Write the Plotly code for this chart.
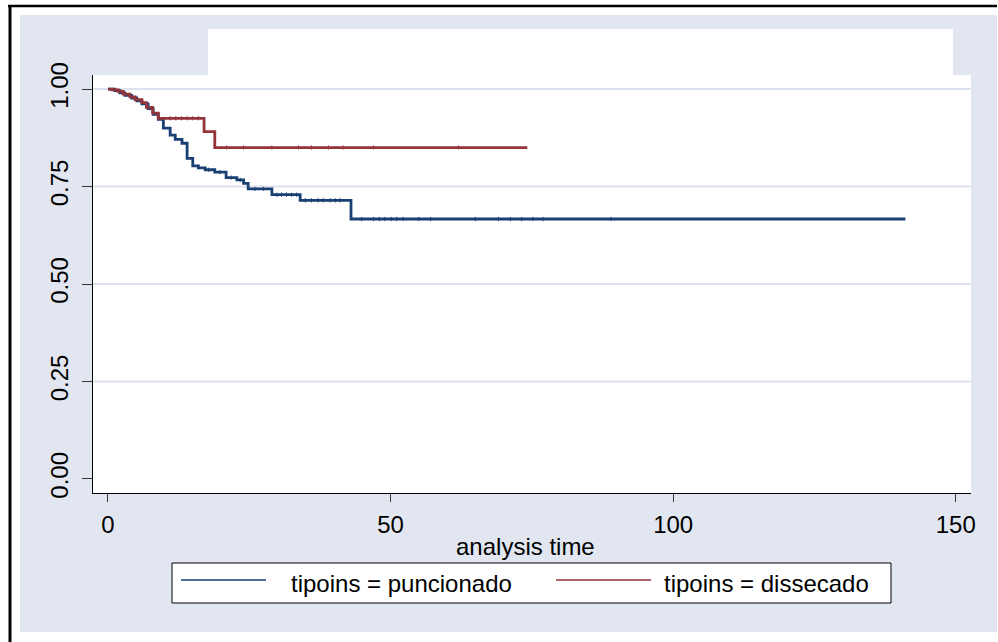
import numpy as np
import plotly.graph_objects as go

# Kaplan-Meier step estimates: time at which each value starts, survival value
punc_times = [0, 1.2, 2.1, 3.0, 4.2, 5.1, 6.0, 7.1, 8.0, 8.9, 9.8, 11.0, 11.9,
              13.1, 14.0, 15.0, 16.0, 17.2, 18.9, 20.9, 22.8, 24.0, 24.8, 29.0,
              34.0, 43.0]
punc_surv = [1.000, 0.996, 0.990, 0.984, 0.977, 0.970, 0.962, 0.950, 0.935,
             0.922, 0.900, 0.882, 0.871, 0.861, 0.822, 0.803, 0.798, 0.793,
             0.787, 0.773, 0.767, 0.758, 0.744, 0.729, 0.7145, 0.6667]
punc_last = 141.1
punc_censored = [17.8, 19.8, 21.8, 23.4, 26.0, 27.5, 29.9, 30.7, 31.6, 32.5,
                 33.4, 34.9, 36.0, 37.2, 38.1, 39.3, 40.2, 41.1, 44.9, 47.0,
                 48.0, 49.0, 50.1, 51.1, 52.2, 55.0, 57.1, 65.0, 69.1, 71.2,
                 73.2, 75.2, 77.0, 89.0]

diss_times = [0, 0.8, 1.8, 2.7, 3.9, 4.8, 6.0, 6.8, 7.9, 8.9, 17.0, 18.9]
diss_surv = [1.000, 0.998, 0.994, 0.987, 0.980, 0.973, 0.965, 0.953, 0.938,
             0.925, 0.891, 0.850]
diss_last = 74.2
diss_censored = [11.0, 12.0, 13.0, 14.0, 15.0, 16.0, 21.0, 24.0, 29.0, 33.7,
                 36.0, 39.0, 41.6, 47.0, 62.0]

x_ticks = [0, 50, 100, 150]
y_ticks = [0.00, 0.25, 0.50, 0.75, 1.00]
y_tick_text = ["0.00", "0.25", "0.50", "0.75", "1.00"]
grid_levels = [0.25, 0.50, 0.75, 1.00]

group_labels = ["tipoins = puncionado", "tipoins = dissecado"]
x_title = "analysis time"

NAVY = "#1A3F73"
MAROON = "#93333A"
REGION = "#E1E6F0"
GRID = "#DDE3EE"
FONT = "Liberation Sans, Arial, sans-serif"
FS = 24

W, H = 998, 642
L, R, T, B = 93, 971, 75, 493


def px(x):
    return (x - L) / (R - L)


def py(y):
    return (B - y) / (B - T)


def step_value(times, surv, t):
    idx = np.searchsorted(np.asarray(times), np.asarray(t), side="right") - 1
    return np.asarray(surv)[idx]


fig = go.Figure()

for times, surv, last, cens, color in [
    (punc_times, punc_surv, punc_last, punc_censored, NAVY),
    (diss_times, diss_surv, diss_last, diss_censored, MAROON),
]:
    fig.add_trace(go.Scatter(
        x=list(times) + [last], y=list(surv) + [surv[-1]],
        mode="lines", line=dict(color=color, width=2.8, shape="hv"),
        hoverinfo="skip", showlegend=False,
    ))
    fig.add_trace(go.Scatter(
        x=cens, y=step_value(times, surv, cens),
        mode="markers",
        marker=dict(symbol="line-ns", size=3,
                    line=dict(color=color, width=1)),
        hoverinfo="skip", showlegend=False,
    ))

shapes = []
# outer graph region
shapes.append(dict(type="rect", xref="paper", yref="paper", layer="below",
                   x0=px(20), x1=px(997), y0=py(632), y1=py(15),
                   fillcolor=REGION, line=dict(width=0)))
# blank title band
shapes.append(dict(type="rect", xref="paper", yref="paper", layer="below",
                   x0=px(208), x1=px(953), y0=py(75), y1=py(29),
                   fillcolor="white", line=dict(width=0)))
# plot region
shapes.append(dict(type="rect", xref="paper", yref="paper", layer="below",
                   x0=0, x1=1, y0=0, y1=1,
                   fillcolor="white", line=dict(width=0)))
# frame
shapes.append(dict(type="line", xref="paper", yref="paper",
                   x0=px(8), x1=px(997), y0=py(6), y1=py(6),
                   line=dict(color="black", width=2.5)))
shapes.append(dict(type="line", xref="paper", yref="paper",
                   x0=px(10), x1=px(10), y0=py(5), y1=py(643),
                   line=dict(color="black", width=3)))
# horizontal grid
for g in grid_levels:
    shapes.append(dict(type="line", xref="paper", yref="y", layer="below",
                       x0=0, x1=1, y0=g, y1=g,
                       line=dict(color=GRID, width=2)))
# legend box and keys
shapes.append(dict(type="rect", xref="paper", yref="paper",
                   x0=px(172), x1=px(891), y0=py(603), y1=py(563),
                   fillcolor="white", line=dict(color="black", width=1)))
shapes.append(dict(type="line", xref="paper", yref="paper",
                   x0=px(181), x1=px(266), y0=py(580), y1=py(580),
                   line=dict(color=NAVY, width=1.6)))
shapes.append(dict(type="line", xref="paper", yref="paper",
                   x0=px(556), x1=px(651), y0=py(580), y1=py(580),
                   line=dict(color=MAROON, width=1.6)))

annotations = [
    dict(text=x_title, xref="paper", yref="paper", x=px(525), y=py(546),
         xanchor="center", yanchor="middle", showarrow=False,
         font=dict(family=FONT, size=FS, color="black")),
    dict(text=group_labels[0], xref="paper", yref="paper", x=px(289), y=py(583),
         xanchor="left", yanchor="middle", showarrow=False,
         font=dict(family=FONT, size=FS, color="black")),
    dict(text=group_labels[1], xref="paper", yref="paper", x=px(662), y=py(583),
         xanchor="left", yanchor="middle", showarrow=False,
         font=dict(family=FONT, size=FS, color="black")),
]

fig.update_layout(
    width=W, height=H,
    margin=dict(l=L, r=W - R, t=T, b=H - B, pad=0),
    paper_bgcolor="white", plot_bgcolor="white",
    font=dict(family=FONT, size=FS, color="black"),
    shapes=shapes, annotations=annotations, showlegend=False,
)
fig.update_xaxes(
    range=[-2.65, 152.7], tickvals=x_ticks, showgrid=False, zeroline=False,
    showline=True, linecolor="black", linewidth=1.3,
    ticks="outside", ticklen=8, tickwidth=1.3, tickcolor="#333333",
    ticklabelstandoff=2,
    tickfont=dict(family=FONT, size=FS, color="black"),
)
fig.update_yaxes(
    range=[-0.036, 1.036], tickvals=y_ticks, ticktext=y_tick_text,
    tickangle=-90, showgrid=False, zeroline=False,
    showline=True, linecolor="black", linewidth=1.3,
    ticks="outside", ticklen=10, tickwidth=1.3, tickcolor="#333333",
    ticklabelstandoff=4,
    tickfont=dict(family=FONT, size=FS, color="black"),
)

fig.write_html("out.html")
